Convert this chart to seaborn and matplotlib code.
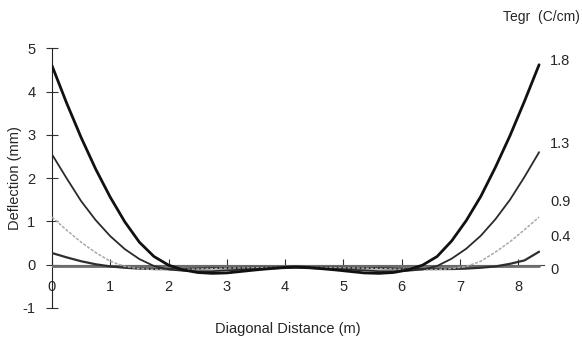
import matplotlib
matplotlib.use("Agg")
import matplotlib.pyplot as plt
import seaborn as sns
import pandas as pd

distance = [0, 0.25, 0.5, 0.75, 1.0, 1.25, 1.5, 1.75, 2.0, 2.25, 2.5, 2.75, 3.0, 3.5, 4.0, 4.18,
            4.36, 4.86, 5.36, 5.61, 5.86, 6.11, 6.36, 6.61, 6.86, 7.11, 7.36, 7.61, 7.86, 8.11, 8.36]

tegr_labels = ["1.8", "1.3", "0.9", "0.4", "0"]

defl_18 = [4.60, 3.74, 2.94, 2.21, 1.56, 0.99, 0.52, 0.19, -0.01, -0.12, -0.18, -0.20, -0.19, -0.12, -0.06, -0.05,
           -0.06, -0.12, -0.19, -0.20, -0.18, -0.12, -0.01, 0.19, 0.55, 1.02, 1.58, 2.25, 2.98, 3.78, 4.62]
defl_13 = [2.55, 2.00, 1.47, 1.03, 0.66, 0.36, 0.13, -0.03, -0.11, -0.14, -0.15, -0.15, -0.13, -0.10, -0.08, -0.07,
           -0.08, -0.10, -0.13, -0.15, -0.15, -0.14, -0.11, -0.03, 0.14, 0.37, 0.67, 1.05, 1.50, 2.03, 2.60]
defl_09 = [1.10, 0.80, 0.52, 0.28, 0.08, -0.04, -0.09, -0.11, -0.12, -0.11, -0.10, -0.09, -0.08, -0.07, -0.06, -0.06,
           -0.06, -0.07, -0.08, -0.09, -0.10, -0.11, -0.12, -0.11, -0.09, -0.04, 0.08, 0.29, 0.53, 0.81, 1.10]
defl_04 = [0.27, 0.17, 0.08, 0.01, -0.04, -0.07, -0.09, -0.10, -0.10, -0.10, -0.09, -0.08, -0.08, -0.07, -0.06, -0.06,
           -0.06, -0.07, -0.08, -0.08, -0.09, -0.10, -0.10, -0.10, -0.10, -0.09, -0.07, -0.04, 0.02, 0.10, 0.30]
defl_00 = [-0.04] * len(distance)

x_ticks = [0, 1, 2, 3, 4, 5, 6, 7, 8]
y_ticks = [-1, 0, 1, 2, 3, 4, 5]

series = {"1.8": defl_18, "1.3": defl_13, "0.9": defl_09, "0.4": defl_04, "0": defl_00}
frames = []
for lab in tegr_labels:
    frames.append(pd.DataFrame({"x": distance, "y": series[lab], "tegr": lab}))
df = pd.concat(frames, ignore_index=True)

sns.set_style("ticks")
plt.rcParams["font.family"] = ["Liberation Sans", "DejaVu Sans"]
plt.rcParams["axes.unicode_minus"] = False

fig = plt.figure(figsize=(5.82, 3.44), dpi=100)
ax = fig.add_axes([0.0893, 0.1047, 0.846, 0.7549])

styles = {
    "1.8": dict(color="#111111", lw=2.0, ls="-"),
    "1.3": dict(color="#2a2a2a", lw=1.3, ls="-"),
    "0.9": dict(color="#a8a8a8", lw=1.1, ls=(0, (2, 1))),
    "0.4": dict(color="#2e2e2e", lw=1.6, ls="-"),
    "0": dict(color="#6e6e6e", lw=2.0, ls="-"),
}
for lab in ["0", "0.4", "0.9", "1.3", "1.8"]:
    st = styles[lab]
    sns.lineplot(data=df[df.tegr == lab], x="x", y="y", ax=ax, color=st["color"],
                 linewidth=st["lw"], linestyle=st["ls"], legend=False, zorder=3)

ax.set_xlim(0, 8.45)
ax.set_ylim(-1, 5)
ax.spines["right"].set_visible(False)
ax.spines["top"].set_visible(False)
ax.spines["bottom"].set_position(("data", 0))
ax.spines["left"].set_bounds(-1, 5)
ax.spines["bottom"].set_color("#444444")
ax.spines["left"].set_color("#222222")
ax.set_xticks(x_ticks)
ax.set_yticks(y_ticks)
ax.tick_params(axis="x", direction="in", length=4, pad=11, labelsize=10.5, color="#333333")
ax.tick_params(axis="y", direction="inout", length=8, pad=8, labelsize=10.5, color="#333333")
ax.set_xlabel("")
ax.set_ylabel("")

fig.text(15 / 582, 1 - 178 / 344, "Deflection (mm)", ha="center", va="center",
         rotation=90, fontsize=10.5)
fig.text(0.495, 0.045, "Diagonal Distance (m)", ha="center", va="center", fontsize=10.5)
fig.text(0.997, 0.95, "Tegr  (C/cm)", ha="right", va="center", fontsize=10)

label_pos = {"1.8": 4.7, "1.3": 2.8, "0.9": 1.45, "0.4": 0.65, "0": -0.12}
for lab in tegr_labels:
    ax.text(8.55, label_pos[lab], lab, ha="left", va="center", fontsize=10.5, clip_on=False)

fig.savefig("out.png", dpi=100)
